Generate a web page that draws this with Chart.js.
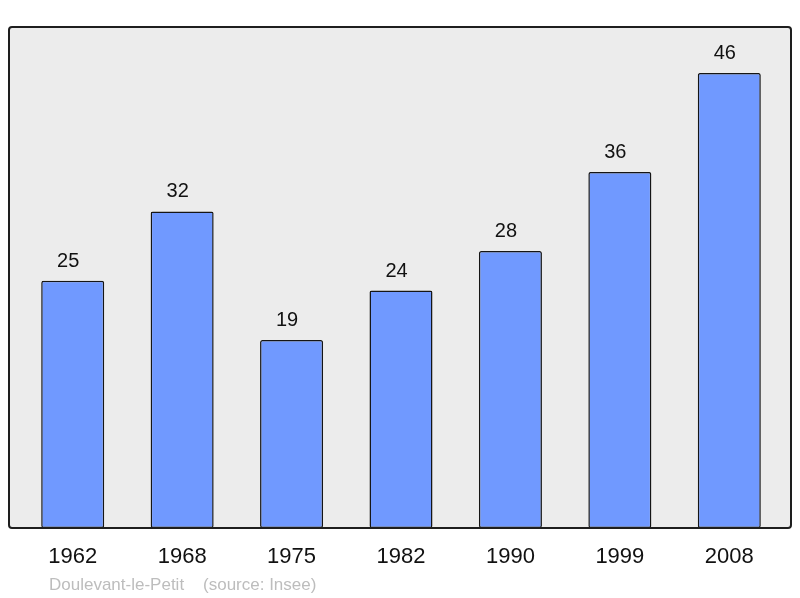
<!DOCTYPE html>
<html>
<head>
<meta charset="utf-8">
<script src="https://cdn.jsdelivr.net/npm/chart.js@4"></script>
<style>
  html, body { margin: 0; padding: 0; background: #fff; }
  #wrap { width: 800px; height: 598px; position: relative; }
</style>
</head>
<body>
<div id="wrap"><canvas id="popChart" width="800" height="598"></canvas></div>
<script>
// ========== DATA ==========
const years = ['1962', '1968', '1975', '1982', '1990', '1999', '2008'];
const population = [25, 32, 19, 24, 28, 36, 46];
const footerText = 'Doulevant-le-Petit    (source: Insee)';

// ========== PLUGINS ==========

// grey panel with dark rounded border behind the bars
const panelPlugin = {
    id: 'panel',
    beforeDraw(chart) {
        const { ctx, chartArea: a } = chart;
        const x0 = a.left - 9, x1 = a.right + 7;
        ctx.save();
        ctx.beginPath();
        ctx.roundRect(x0, a.top, x1 - x0, a.bottom - a.top, 3);
        ctx.fillStyle = '#ececec';
        ctx.fill();
        ctx.restore();
    },
    afterDatasetsDraw(chart) {
        const { ctx, chartArea: a } = chart;
        const x0 = a.left - 9, x1 = a.right + 7;
        ctx.save();
        ctx.beginPath();
        ctx.roundRect(x0, a.top, x1 - x0, a.bottom - a.top, 3);
        ctx.lineWidth = 2;
        ctx.strokeStyle = '#1e1e1e';
        ctx.stroke();
        ctx.restore();
    }
};

// value labels above each bar + footer text
const labelPlugin = {
    id: 'labels',
    afterDraw(chart) {
        const { ctx } = chart;
        const meta = chart.getDatasetMeta(0);
        ctx.save();
        ctx.font = '20px "Liberation Sans", Arial, sans-serif';
        ctx.fillStyle = '#111';
        ctx.textAlign = 'center';
        ctx.textBaseline = 'alphabetic';
        meta.data.forEach((bar, i) => {
            ctx.fillText(String(population[i]), bar.x - 4.5, bar.y - 14);
        });
        ctx.font = '17px "Liberation Sans", Arial, sans-serif';
        ctx.fillStyle = '#bdbdbd';
        ctx.textAlign = 'left';
        ctx.fillText(footerText, 49, 590);
        ctx.restore();
    }
};

// ========== CHART ==========

const ctx = document.getElementById('popChart').getContext('2d');

new Chart(ctx, {
    type: 'bar',
    data: {
        labels: years,
        datasets: [{
            data: population,
            backgroundColor: '#7099ff',
            borderColor: '#151515',
            borderWidth: 1.5,
            borderRadius: 2,
            borderSkipped: false,
            barPercentage: 0.576,
            categoryPercentage: 1
        }]
    },
    options: {
        responsive: false,
        animation: false,
        layout: {
            padding: { left: 18, right: 16, top: 27, bottom: 0 }
        },
        plugins: {
            legend: { display: false },
            tooltip: { enabled: false }
        },
        scales: {
            y: {
                display: false,
                min: 0,
                max: 50.65
            },
            x: {
                grid: { display: false, drawTicks: false },
                border: { display: false },
                ticks: {
                    color: '#111',
                    font: { family: '"Liberation Sans", Arial, sans-serif', size: 22 },
                    padding: 16,
                    maxRotation: 0
                },
                afterFit(scale) {
                    scale.height = 70;
                }
            }
        }
    },
    plugins: [panelPlugin, labelPlugin]
});
</script>
</body>
</html>
